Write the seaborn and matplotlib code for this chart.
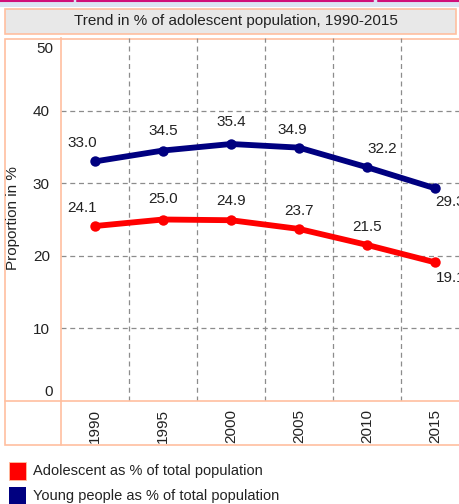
import matplotlib.pyplot as plt
import matplotlib.patches as mpatches
from matplotlib.lines import Line2D
import pandas as pd
import seaborn as sns

years = [1990, 1995, 2000, 2005, 2010, 2015]
adolescent = [24.1, 25.0, 24.9, 23.7, 21.5, 19.1]
young = [33.0, 34.5, 35.4, 34.9, 32.2, 29.3]
series_names = ["Adolescent as % of total population", "Young people as % of total population"]
title = "Trend in % of adolescent population, 1990-2015"
y_ticks = [0, 10, 20, 30, 40, 50]

RED = "#ff0000"
NAVY = "#000080"
EDGE = "#ffbf9f"
W, H = 460, 504

df = pd.DataFrame({
    "year": years * 2,
    "value": adolescent + young,
    "series": [series_names[0]] * len(years) + [series_names[1]] * len(years),
})

sns.set_style("white")
plt.rcParams["font.family"] = ["Liberation Sans", "DejaVu Sans"]

fig = plt.figure(figsize=(W / 100, H / 100), dpi=100)

def fx(px):
    return px / W

def fy(py):
    return 1 - py / H

# page strip at the top
fig.patches.append(mpatches.Rectangle((0, fy(7)), 1, 7 / H, transform=fig.transFigure,
                                      facecolor="#dce5f3", edgecolor="none", zorder=0))
for a, b in [(0, 73), (77, 373), (378, 460)]:
    fig.lines.append(Line2D([fx(a), fx(b)], [fy(1), fy(1)], transform=fig.transFigure,
                            color="#d0107a", lw=1.5))

# title box
fig.patches.append(mpatches.Rectangle((fx(5), fy(34)), fx(451), 25 / H, transform=fig.transFigure,
                                      facecolor="#e8e8e8", edgecolor=EDGE, lw=1.2))
fig.text(fx(236), fy(21.5), title, ha="center", va="center", fontsize=11, color="#222222")

# chart frame
fig.patches.append(mpatches.Rectangle((fx(5), fy(445)), fx(470), 406 / H, transform=fig.transFigure,
                                      facecolor="white", edgecolor=EDGE, lw=1.2, zorder=0))
fig.lines.append(Line2D([fx(61), fx(61)], [fy(401), fy(445)], transform=fig.transFigure, color=EDGE, lw=1.2))
fig.lines.append(Line2D([fx(5), fx(61)], [fy(401), fy(401)], transform=fig.transFigure, color=EDGE, lw=1.2))

ax = fig.add_axes([fx(61), fy(401), fx(408), 363 / H])
ax.set_zorder(5)
ax.patch.set_alpha(0)

sns.lineplot(data=df, x="year", y="value", hue="series", palette=[RED, NAVY],
             marker="o", markersize=7.5, markeredgewidth=0, linewidth=4.2,
             legend=False, ax=ax, zorder=3)

ax.set_xlim(1987.5, 2017.5)
ax.set_ylim(0, 50)
ax.set_xticks(years)
ax.set_xticklabels([str(y) for y in years], rotation=90, fontsize=11, color="#222222")
ax.set_yticks(y_ticks)
# end labels are nudged inside the frame, as in the original
ax.set_yticklabels([""] + [str(t) for t in y_ticks[1:-1]] + [""], fontsize=11, color="#222222")
ax.annotate(str(y_ticks[0]), (0, y_ticks[0]), xycoords=("axes fraction", "data"), xytext=(-8, 9),
            textcoords="offset pixels", ha="right", va="center", fontsize=11, color="#222222",
            annotation_clip=False)
ax.annotate(str(y_ticks[-1]), (0, y_ticks[-1]), xycoords=("axes fraction", "data"), xytext=(-8, -11),
            textcoords="offset pixels", ha="right", va="center", fontsize=11, color="#222222",
            annotation_clip=False)
ax.tick_params(axis="x", which="both", length=0, pad=6)
ax.tick_params(axis="y", length=6, color=EDGE, pad=2)
ax.grid(False)
for yv in y_ticks[1:-1]:
    ax.axhline(yv, color="#8c8c8c", lw=0.9, ls=(0, (4, 3)), zorder=1)
for xv in [1992.5, 1997.5, 2002.5, 2007.5, 2012.5]:
    ax.axvline(xv, color="#8c8c8c", lw=0.9, ls=(0, (4, 3)), zorder=1)
for s in ["top", "right"]:
    ax.spines[s].set_visible(False)
for s in ["left", "bottom"]:
    ax.spines[s].set_color(EDGE)
    ax.spines[s].set_linewidth(1.2)
ax.set_xlabel("")
ax.set_ylabel("")

fig.text(fx(13), fy(218), "Proportion in %", rotation=90, ha="center", va="center",
         fontsize=11, color="#222222")

# value labels (offsets in points)
young_off = [(-9, 13), (0, 14), (0, 16), (-5, 13), (11, 13), (11, -10)]
adol_off = [(-9, 13), (0, 15), (0, 14), (0, 13), (0, 13), (11, -11)]
for yr, v, off in zip(years, young, young_off):
    ax.annotate(f"{v:.1f}", (yr, v), xytext=off, textcoords="offset points",
                ha="center", va="center", fontsize=11, color="#222222", annotation_clip=False)
for yr, v, off in zip(years, adolescent, adol_off):
    ax.annotate(f"{v:.1f}", (yr, v), xytext=off, textcoords="offset points",
                ha="center", va="center", fontsize=11, color="#222222", annotation_clip=False)

# legend
for i, (name, c) in enumerate(zip(series_names, [RED, NAVY])):
    cy = 471 + 25 * i
    fig.patches.append(mpatches.Rectangle((fx(9), fy(cy + 9)), fx(17), 18 / H, transform=fig.transFigure,
                                          facecolor=c, edgecolor=EDGE if c == RED else "none", lw=0.6))
    fig.text(fx(33), fy(cy), name, ha="left", va="center", fontsize=10.5, color="#222222")

fig.savefig("out.png", dpi=100)
